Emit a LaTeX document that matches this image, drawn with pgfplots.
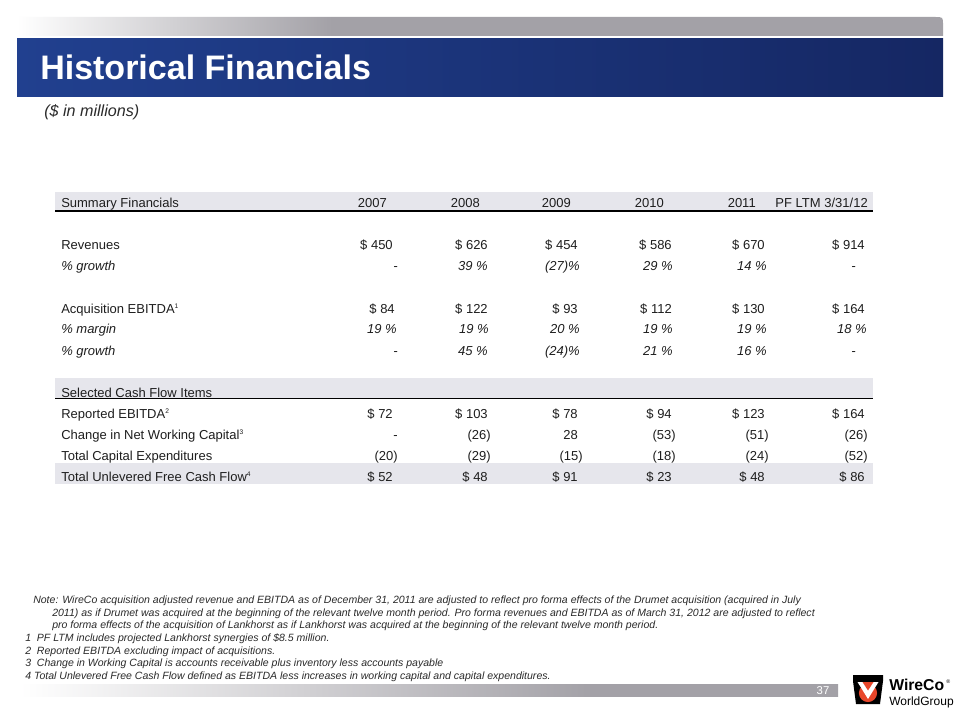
\documentclass[border=0pt]{standalone}
\usepackage{pgfplots}
\pgfplotsset{compat=1.18}
\usepackage{fontspec}
\setmainfont{Liberation Sans}
\definecolor{bandL}{HTML}{21408F}
\definecolor{bandR}{HTML}{152763}
\definecolor{barG}{HTML}{A3A1A7}
\definecolor{rowG}{HTML}{E6E6EC}
\definecolor{txt}{HTML}{1E1E1E}
\definecolor{note}{HTML}{2A2A2A}
\definecolor{logoRed}{HTML}{E8462A}
\pgfdeclarehorizontalshading{topbar}{100bp}{color(0bp)=(white); color(25bp)=(white); color(42bp)=(barG); color(100bp)=(barG)}
\pgfdeclarehorizontalshading{footbar}{100bp}{color(0bp)=(white); color(25bp)=(white); color(60bp)=(barG); color(100bp)=(barG)}
\newcommand{\tf}{\fontsize{9.75}{11}\selectfont}
\newcommand{\nf}{\fontsize{7.9}{9}\selectfont\itshape}
\newcommand{\sups}[1]{\textsuperscript{\fontsize{5}{5}\selectfont #1}}
\begin{document}
\begin{tikzpicture}
\begin{axis}[at={(0,0)}, anchor=south west, scale only axis,
  width=720pt, height=540pt, xmin=0, xmax=960, ymin=0, ymax=720,
  y dir=reverse, hide axis, clip=false,
  nodes near coords align=center,
  vals/.style={draw=none, nodes near coords, point meta=explicit symbolic,
    every node near coord/.append style={anchor=base east, inner sep=0pt, font=\tf, text=txt}},
  valsI/.style={draw=none, nodes near coords, point meta=explicit symbolic,
    every node near coord/.append style={anchor=base east, inner sep=0pt, font=\tf\itshape, text=txt}},
]
% background
\fill[white] (axis cs:0,0) rectangle (axis cs:960,720);
% top grey bar
\shade[shading=topbar] (axis cs:17,36) -- (axis cs:17,17) -- (axis cs:935,17) .. controls (axis cs:943,17) .. (axis cs:943,25) -- (axis cs:943,36) -- cycle;
% blue band
\shade[left color=bandL, right color=bandR] (axis cs:17,39) rectangle (axis cs:943,97);
\node[anchor=base west, inner sep=0pt, text=white, font=\fontsize{25.5}{28}\selectfont\bfseries] at (axis cs:40,80) {Historical Financials};
\node[anchor=base west, inner sep=0pt, text=note, font=\fontsize{12.1}{13}\selectfont\itshape] at (axis cs:44,117) {(\$ in millions)};

% table backgrounds and rules
\fill[rowG] (axis cs:55,192) rectangle (axis cs:873,211);
\draw[black, line width=0.8pt] (axis cs:55,211) -- (axis cs:873,211);
\fill[rowG] (axis cs:55,378) rectangle (axis cs:873,398.5);
\draw[black, line width=0.8pt] (axis cs:55,398.5) -- (axis cs:873,398.5);
\fill[rowG] (axis cs:55,463) rectangle (axis cs:873,483.5);

% row labels
\begin{scope}[every node/.style={anchor=base west, inner sep=0pt, font=\tf, text=txt}]
\node at (axis cs:61,207.5) {Summary Financials};
\node at (axis cs:61,250) {Revenues};
\node[font=\tf\itshape] at (axis cs:61,271) {\% growth};
\node at (axis cs:61,313) {Acquisition EBITDA\sups{1}};
\node[font=\tf\itshape] at (axis cs:61,334) {\% margin};
\node[font=\tf\itshape] at (axis cs:61,355) {\% growth};
\node at (axis cs:61,397) {Selected Cash Flow Items};
\node at (axis cs:61,418.5) {Reported EBITDA\sups{2}};
\node at (axis cs:61,439.5) {Change in Net Working Capital\sups{3}};
\node at (axis cs:61,460.5) {Total Capital Expenditures};
\node at (axis cs:61,481) {Total Unlevered Free Cash Flow\sups{4}};
\end{scope}

% header years
\addplot[vals] coordinates {(387,207.5) [2007] (480,207.5) [2008] (571,207.5) [2009] (664,207.5) [2010] (756,207.5) [2011] (868,207.5) [PF LTM 3/31/12]};
% revenues
\addplot[vals] coordinates {(393,250) [\$ 450] (488,250) [\$ 626] (578,250) [\$ 454] (672,250) [\$ 586] (765,250) [\$ 670] (865,250) [\$ 914]};
% revenue growth
\addplot[valsI] coordinates {(398,271) [-] (488,271) [39 \%] (580,271) [(27)\%] (673,271) [29 \%] (767,271) [14 \%] (856,271) [-]};
% acquisition EBITDA
\addplot[vals] coordinates {(395,313) [\$ 84] (488,313) [\$ 122] (578,313) [\$ 93] (672,313) [\$ 112] (765,313) [\$ 130] (865,313) [\$ 164]};
% margin
\addplot[valsI] coordinates {(397,334) [19 \%] (489,334) [19 \%] (580,334) [20 \%] (673,334) [19 \%] (767,334) [19 \%] (867,334) [18 \%]};
% EBITDA growth
\addplot[valsI] coordinates {(398,355) [-] (488,355) [45 \%] (580,355) [(24)\%] (673,355) [21 \%] (767,355) [16 \%] (856,355) [-]};
% reported EBITDA
\addplot[vals] coordinates {(393,418.5) [\$ 72] (488,418.5) [\$ 103] (578,418.5) [\$ 78] (672,418.5) [\$ 94] (765,418.5) [\$ 123] (865,418.5) [\$ 164]};
% change in NWC
\addplot[vals] coordinates {(398,439.5) [-] (491,439.5) [(26)] (578,439.5) [28] (676,439.5) [(53)] (769,439.5) [(51)] (868,439.5) [(26)]};
% capex
\addplot[vals] coordinates {(398,460.5) [(20)] (491,460.5) [(29)] (583,460.5) [(15)] (676,460.5) [(18)] (769,460.5) [(24)] (868,460.5) [(52)]};
% unlevered FCF
\addplot[vals] coordinates {(393,481) [\$ 52] (488,481) [\$ 48] (578,481) [\$ 91] (672,481) [\$ 23] (765,481) [\$ 48] (865,481) [\$ 86]};

% footnotes
\begin{scope}[every node/.style={anchor=base west, inner sep=0pt, font=\nf, text=note}]
\node at (axis cs:33,603) {Note: WireCo acquisition adjusted revenue and EBITDA as of December 31, 2011 are adjusted to reflect pro forma effects of the Drumet acquisition (acquired in July};
\node at (axis cs:52,616) {2011) as if Drumet was acquired at the beginning of the relevant twelve month period. Pro forma revenues and EBITDA as of March 31, 2012 are adjusted to reflect};
\node at (axis cs:52,628) {pro forma effects of the acquisition of Lankhorst as if Lankhorst was acquired at the beginning of the relevant twelve month period.};
\node at (axis cs:25,641) {1\ \ PF LTM includes projected Lankhorst synergies of \$8.5 million.};
\node at (axis cs:25,654) {2\ \ Reported EBITDA excluding impact of acquisitions.};
\node at (axis cs:25,666) {3\ \ Change in Working Capital is accounts receivable plus inventory less accounts payable};
\node at (axis cs:25,679) {4 Total Unlevered Free Cash Flow defined as EBITDA less increases in working capital and capital expenditures.};
\end{scope}

% footer bar
\shade[shading=footbar] (axis cs:20,684) rectangle (axis cs:838,696);
\node[anchor=base, inner sep=0pt, text=white, font=\fontsize{8.5}{10}\selectfont] at (axis cs:823,694) {37};

% logo
\fill[black] (axis cs:853,675) -- (axis cs:883,675) -- (axis cs:883,681) -- (axis cs:880,704) -- (axis cs:856,704) -- (axis cs:853,681) -- cycle;
\fill[logoRed] (axis cs:868,693) circle[radius=6.8pt];
\fill[white] (axis cs:857.5,682) -- (axis cs:878.5,682) -- (axis cs:868,699) -- cycle;
\fill[logoRed] (axis cs:862.5,682) -- (axis cs:873.5,682) -- (axis cs:868,690.5) -- cycle;
\node[anchor=base west, inner sep=0pt, text=black, font=\fontsize{11.8}{12}\selectfont\bfseries] at (axis cs:889,690) {WireCo};
\node[anchor=base west, inner sep=0pt, text=black, font=\fontsize{4}{4}\selectfont] at (axis cs:946,683) {\textregistered};
\node[anchor=base west, inner sep=0pt, text=black, font=\fontsize{9}{10}\selectfont] at (axis cs:889,705) {WorldGroup};
\end{axis}
\end{tikzpicture}
\end{document}
